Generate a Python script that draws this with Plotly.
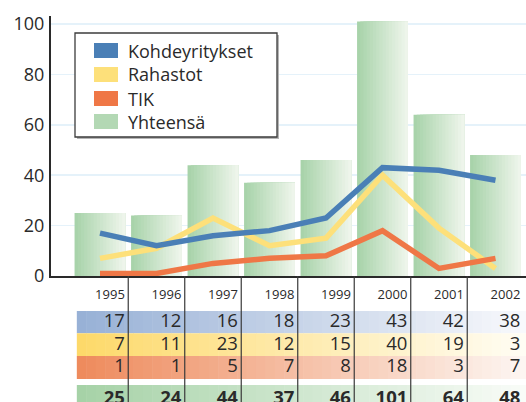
import plotly.graph_objects as go

# ---------------- data ----------------
years = ["1995", "1996", "1997", "1998", "1999", "2000", "2001", "2002"]
kohdeyritykset = [17, 12, 16, 18, 23, 43, 42, 38]
rahastot = [7, 11, 23, 12, 15, 40, 19, 3]
tik = [1, 1, 5, 7, 8, 18, 3, 7]
yhteensa = [25, 24, 44, 37, 46, 101, 64, 48]
series_names = ["Kohdeyritykset", "Rahastot", "TIK", "Yhteensä"]
y_tick_values = [0, 20, 40, 60, 80, 100]

# ---------------- style ----------------
W, H = 526, 402
FONT = "Open Sans"
TXT = "#2a2a2a"
C_BLUE = "#4a7fb6"
C_YELLOW = "#fde07a"
C_ORANGE = "#ef7746"
C_GREEN = "#b3d8b4"


def px(x):
    return x / W


def py(y):
    return 1 - y / H


def hex2rgb(h):
    h = h.lstrip("#")
    return tuple(int(h[i:i + 2], 16) for i in (0, 2, 4))


def mix(c1, c2, t):
    a, b = hex2rgb(c1), hex2rgb(c2)
    return "rgb(%d,%d,%d)" % tuple(round(a[i] + (b[i] - a[i]) * t) for i in range(3))


pos = list(range(len(years)))
fig = go.Figure()

# ---------------- gradient bars (Yhteensä) ----------------
BAR_W = 0.9
N = 16
for k in range(N):
    fig.add_trace(go.Bar(
        x=pos, y=yhteensa,
        width=[BAR_W - k * BAR_W / N] * len(pos),
        offset=-BAR_W / 2 + k * BAR_W / N,
        marker=dict(color=mix("#a8d3aa", "#eef5eb", k / (N - 1)), line=dict(width=0)),
        name=series_names[3] if k == 0 else None,
        showlegend=False, hoverinfo="skip",
    ))

# ---------------- lines ----------------
for vals, col, nm in [(rahastot, C_YELLOW, series_names[1]),
                      (kohdeyritykset, C_BLUE, series_names[0]),
                      (tik, C_ORANGE, series_names[2])]:
    fig.add_trace(go.Scatter(x=pos, y=vals, mode="lines", name=nm,
                             line=dict(color=col, width=5.5),
                             showlegend=False))

# ---------------- table below (x shared, y2) ----------------
ROW_Y = {"year": 19, "k": 45.3, "r": 68, "t": 90.8, "tot": 122}
TEXT_X = [p + 0.44 for p in pos]

bands = [
    (34, 56.3, "#98b1d6", "#f8f9fc"),
    (56.3, 79, "#fdd96a", "#fffdf4"),
    (79, 102, "#ee8b5d", "#fdf6f2"),
    (108, 130, "#a6d2a7", "#f9fcf8"),
]
shapes = []
NS = 48
x_lo, x_hi = -0.41, 7.6
for y0, y1, cl, cr in bands:
    for k in range(NS):
        xa = x_lo + (x_hi - x_lo) * k / NS
        xb = x_lo + (x_hi - x_lo) * (k + 1) / NS + 0.01
        shapes.append(dict(type="rect", xref="x", yref="y2", x0=xa, x1=xb,
                           y0=y0, y1=y1, line=dict(width=0),
                           fillcolor=mix(cl, cr, k / (NS - 1)), layer="below"))
for p in pos[:-1]:
    shapes.append(dict(type="line", xref="x", yref="paper", x0=p + 0.5, x1=p + 0.5,
                       y0=0, y1=py(276), line=dict(color="#3a3a3a", width=1.2)))

fig.add_trace(go.Scatter(x=TEXT_X, y=[ROW_Y["year"]] * len(pos), yaxis="y2",
                         mode="text", text=years, textposition="middle left",
                         textfont=dict(family=FONT, size=13, color=TXT),
                         showlegend=False, hoverinfo="skip"))
for key, vals in [("k", kohdeyritykset), ("r", rahastot), ("t", tik)]:
    fig.add_trace(go.Scatter(x=TEXT_X, y=[ROW_Y[key]] * len(pos), yaxis="y2",
                             mode="text", text=[str(v) for v in vals],
                             textposition="middle left",
                             textfont=dict(family=FONT, size=18.5, color=TXT),
                             showlegend=False, hoverinfo="skip"))
fig.add_trace(go.Scatter(x=TEXT_X, y=[ROW_Y["tot"]] * len(pos), yaxis="y2",
                         mode="text", text=[str(v) for v in yhteensa],
                         textposition="middle left",
                         textfont=dict(family=FONT, size=18.5, color=TXT, weight="bold"),
                         showlegend=False, hoverinfo="skip"))

# ---------------- manual legend ----------------
annotations = []
LX0, LY0, LX1, LY1 = 75, 33, 277, 137
shapes.append(dict(type="rect", xref="paper", yref="paper",
                   x0=px(LX0 + 2), x1=px(LX1 + 2), y0=py(LY0 + 2), y1=py(LY1 + 2),
                   fillcolor="#b5b5b5", line=dict(width=0), layer="above"))
shapes.append(dict(type="rect", xref="paper", yref="paper",
                   x0=px(LX0), x1=px(LX1), y0=py(LY0), y1=py(LY1),
                   fillcolor="white", line=dict(color="#3c3c3c", width=1.3), layer="above"))
sw_cols = [C_BLUE, C_YELLOW, C_ORANGE, C_GREEN]
sw_top = [43, 67, 91, 114]
for nm, col, t in zip(series_names, sw_cols, sw_top):
    shapes.append(dict(type="rect", xref="paper", yref="paper",
                       x0=px(94), x1=px(118), y0=py(t), y1=py(t + 15),
                       fillcolor=col, line=dict(width=0), layer="above"))
    annotations.append(dict(xref="paper", yref="paper", x=px(126), y=py(t + 7.5),
                            xanchor="left", yanchor="middle", showarrow=False,
                            text=nm, font=dict(family=FONT, size=18, color=TXT)))

fig.update_layout(
    width=W, height=H,
    margin=dict(l=0, r=0, t=0, b=0, autoexpand=False),
    paper_bgcolor="white", plot_bgcolor="white",
    barmode="overlay", showlegend=False,
    font=dict(family=FONT, color=TXT),
    xaxis=dict(domain=[px(51), 1], range=[-0.867, 7.54], showticklabels=False,
               showgrid=False, zeroline=False, ticks="", automargin=False,
               showline=True, linecolor="#2a2a2a", linewidth=2),
    yaxis=dict(domain=[py(276), py(16)], range=[0, 103.2], tickvals=y_tick_values,
               showgrid=True, gridcolor="#e5f2fa", gridwidth=1.5, zeroline=False,
               showline=True, linecolor="#2a2a2a", linewidth=2, ticks="",
               automargin=False, ticklabelstandoff=1,
               tickfont=dict(family=FONT, size=18, color=TXT)),
    yaxis2=dict(domain=[0, py(277)], range=[125, 0], anchor="x", automargin=False,
                showgrid=False, zeroline=False, showticklabels=False, showline=False),
    shapes=shapes, annotations=annotations,
)

fig.write_html(
    "out.html",
    config={"displayModeBar": False, "staticPlot": True},
    post_script="document.body.style.margin='0';document.body.style.overflow='hidden';",
)
